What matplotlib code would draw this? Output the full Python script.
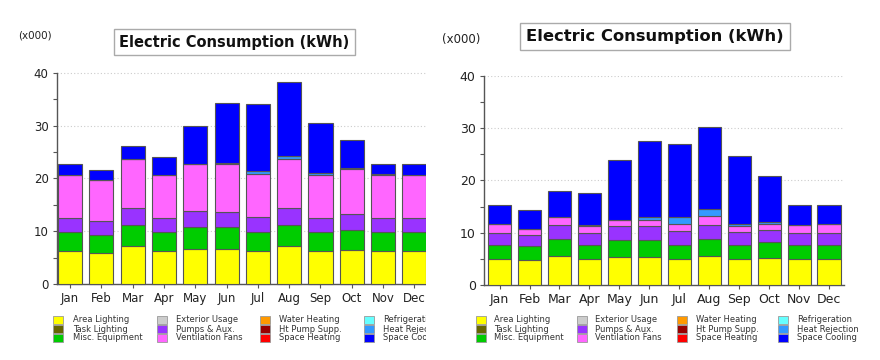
import matplotlib
matplotlib.use("Agg")
import matplotlib.pyplot as plt
from matplotlib.patches import Rectangle
from matplotlib.transforms import Bbox, TransformedBbox

W, H = 880, 360

months = ["Jan", "Feb", "Mar", "Apr", "May", "Jun",
          "Jul", "Aug", "Sep", "Oct", "Nov", "Dec"]

end_uses = ["Area Lighting", "Task Lighting", "Misc. Equipment",
            "Exterior Usage", "Pumps & Aux.", "Ventilation Fans",
            "Water Heating", "Ht Pump Supp.", "Space Heating",
            "Refrigeration", "Heat Rejection", "Space Cooling"]
colors = ["#ffff00", "#666600", "#00cc00",
          "#cccccc", "#9933ff", "#ff66ff",
          "#ff9900", "#990000", "#ff0000",
          "#66ffff", "#3399ff", "#0000ff"]

zero = [0] * 12

# left chart (x000 kWh)
left_area = [6.2, 5.8, 7.1, 6.2, 6.7, 6.7, 6.2, 7.1, 6.2, 6.5, 6.2, 6.2]
left_misc = [3.6, 3.5, 4.1, 3.6, 4.1, 4.0, 3.6, 4.1, 3.6, 3.8, 3.6, 3.6]
left_pumps = [2.7, 2.7, 3.2, 2.7, 3.1, 3.0, 2.9, 3.2, 2.7, 2.9, 2.7, 2.7]
left_vent = [8.2, 7.6, 9.3, 8.2, 8.8, 9.0, 8.1, 9.3, 8.1, 8.6, 8.2, 8.2]
left_heatrej = [0, 0, 0, 0, 0.05, 0.3, 0.5, 0.6, 0.4, 0.1, 0.1, 0]
left_cool = [2.0, 1.9, 2.5, 3.4, 7.2, 11.2, 12.8, 14.0, 9.4, 5.4, 2.0, 2.0]

# right chart (x000 kWh)
right_area = [5.0, 4.7, 5.5, 5.0, 5.4, 5.4, 5.0, 5.5, 5.0, 5.1, 5.0, 5.0]
right_misc = [2.7, 2.7, 3.3, 2.7, 3.2, 3.2, 2.7, 3.3, 2.7, 3.1, 2.7, 2.7]
right_pumps = [2.3, 2.2, 2.6, 2.3, 2.6, 2.6, 2.6, 2.7, 2.4, 2.3, 2.3, 2.3]
right_vent = [1.6, 1.1, 1.6, 1.3, 1.2, 1.2, 1.4, 1.7, 1.1, 1.2, 1.4, 1.6]
right_heatrej = [0, 0, 0, 0.1, 0.1, 0.55, 1.25, 1.4, 0.5, 0.4, 0, 0]
right_cool = [3.8, 3.7, 4.9, 6.3, 11.4, 14.65, 13.95, 15.7, 13.0, 8.7, 4.0, 3.65]

left_series = [left_area, zero, left_misc, zero, left_pumps, left_vent,
               zero, zero, zero, zero, left_heatrej, left_cool]
right_series = [right_area, zero, right_misc, zero, right_pumps, right_vent,
                zero, zero, zero, zero, right_heatrej, right_cool]

fig = plt.figure(figsize=(W / 100, H / 100), dpi=100)
fig.patch.set_facecolor("white")

def px(x, y):
    return x / W, 1 - y / H

def draw_chart(rect, series, xlim, clip=None, labelsize=8.5):
    ax = fig.add_axes(rect)
    bottom = [0.0] * 12
    for vals, col in zip(series, colors):
        if max(vals) > 0:
            bars = ax.bar(range(12), vals, bottom=bottom, width=0.77,
                          color=col, edgecolor="#555555", linewidth=0.8,
                          zorder=3)
            if clip is not None:
                for b in bars:
                    b.set_clip_box(clip)
        bottom = [b + v for b, v in zip(bottom, vals)]
    ax.set_xlim(*xlim)
    ax.set_ylim(0, 40)
    ax.set_xticks(range(12))
    ax.set_xticklabels(months)
    ax.set_yticks([0, 10, 20, 30, 40])
    ax.set_yticks([5, 15, 25, 35], minor=True)
    ax.tick_params(axis="both", labelsize=labelsize, colors="#555555",
                   labelcolor="#222222", length=3, width=0.8, pad=3)
    ax.tick_params(axis="y", which="minor", length=3, width=0.8,
                   colors="#555555")
    ax.yaxis.grid(True, linestyle=(0, (1, 2)), color="#cccccc",
                  linewidth=0.8, zorder=0)
    for s in ["top", "right"]:
        ax.spines[s].set_visible(False)
    for s in ["left", "bottom"]:
        ax.spines[s].set_color("#555555")
        ax.spines[s].set_linewidth(1.0)
    if clip is not None:
        for ln in ax.get_ygridlines():
            ln.set_clip_box(clip)
        ax.spines["bottom"].set_clip_box(clip)
        ax.spines["bottom"].set_clip_on(True)
    return ax

# clip region for the left chart (image is cut at x = 426)
left_clip = TransformedBbox(Bbox([[0, 0], [426 / W, 1]]), fig.transFigure)

# left chart
x0, y0 = px(57, 284)
draw_chart([x0, y0, 445 / W - x0, (284 - 72.7) / H], left_series,
           (-0.42, 11.98), clip=left_clip)

# right chart
x0, y0 = px(484, 285)
draw_chart([x0, y0, (844 - 484) / W, (285 - 76) / H], right_series,
           (-0.52, 11.5), labelsize=9)

# titles and unit labels
title_box = dict(boxstyle="square,pad=0.35", fc="white", ec="#aaaaaa",
                 lw=1.0)
fig.text(*px(234.5, 42), "Electric Consumption (kWh)", ha="center",
         va="center", fontsize=10.5, fontweight="bold", color="#111111",
         bbox=title_box)
fig.text(*px(655, 36.5), "Electric Consumption (kWh)", ha="center",
         va="center", fontsize=11.8, fontweight="bold", color="#111111",
         bbox=title_box)
fig.text(*px(18, 35), "(x000)", ha="left", va="center", fontsize=7.5,
         color="#222222")
fig.text(*px(442, 40), "(x000)", ha="left", va="center", fontsize=8.5,
         color="#222222")

# legends
def draw_legend(sw_x, tx_x, clip=None):
    rows_y = [320, 329, 338]
    for i, (name, col) in enumerate(zip(end_uses, colors)):
        c, r = divmod(i, 3)
        sx, sy = px(sw_x[c], rows_y[r] + 4)
        rect = Rectangle((sx, sy), 10 / W, 8 / H, transform=fig.transFigure,
                         facecolor=col, edgecolor="#999999", linewidth=0.6)
        fig.patches.append(rect)
        t = fig.text(*px(tx_x[c], rows_y[r]), name, ha="left", va="center",
                     fontsize=6, color="#333333")
        if clip is not None:
            rect.set_clip_box(clip)
            rect.set_clip_on(True)
            t.set_clip_box(clip)
            t.set_clip_on(True)

draw_legend([53, 157, 260, 364], [73, 176, 279, 383], clip=left_clip)
draw_legend([476, 577, 677, 778], [494, 595, 696, 797])

fig.savefig("out.png", dpi=100, facecolor="white")
